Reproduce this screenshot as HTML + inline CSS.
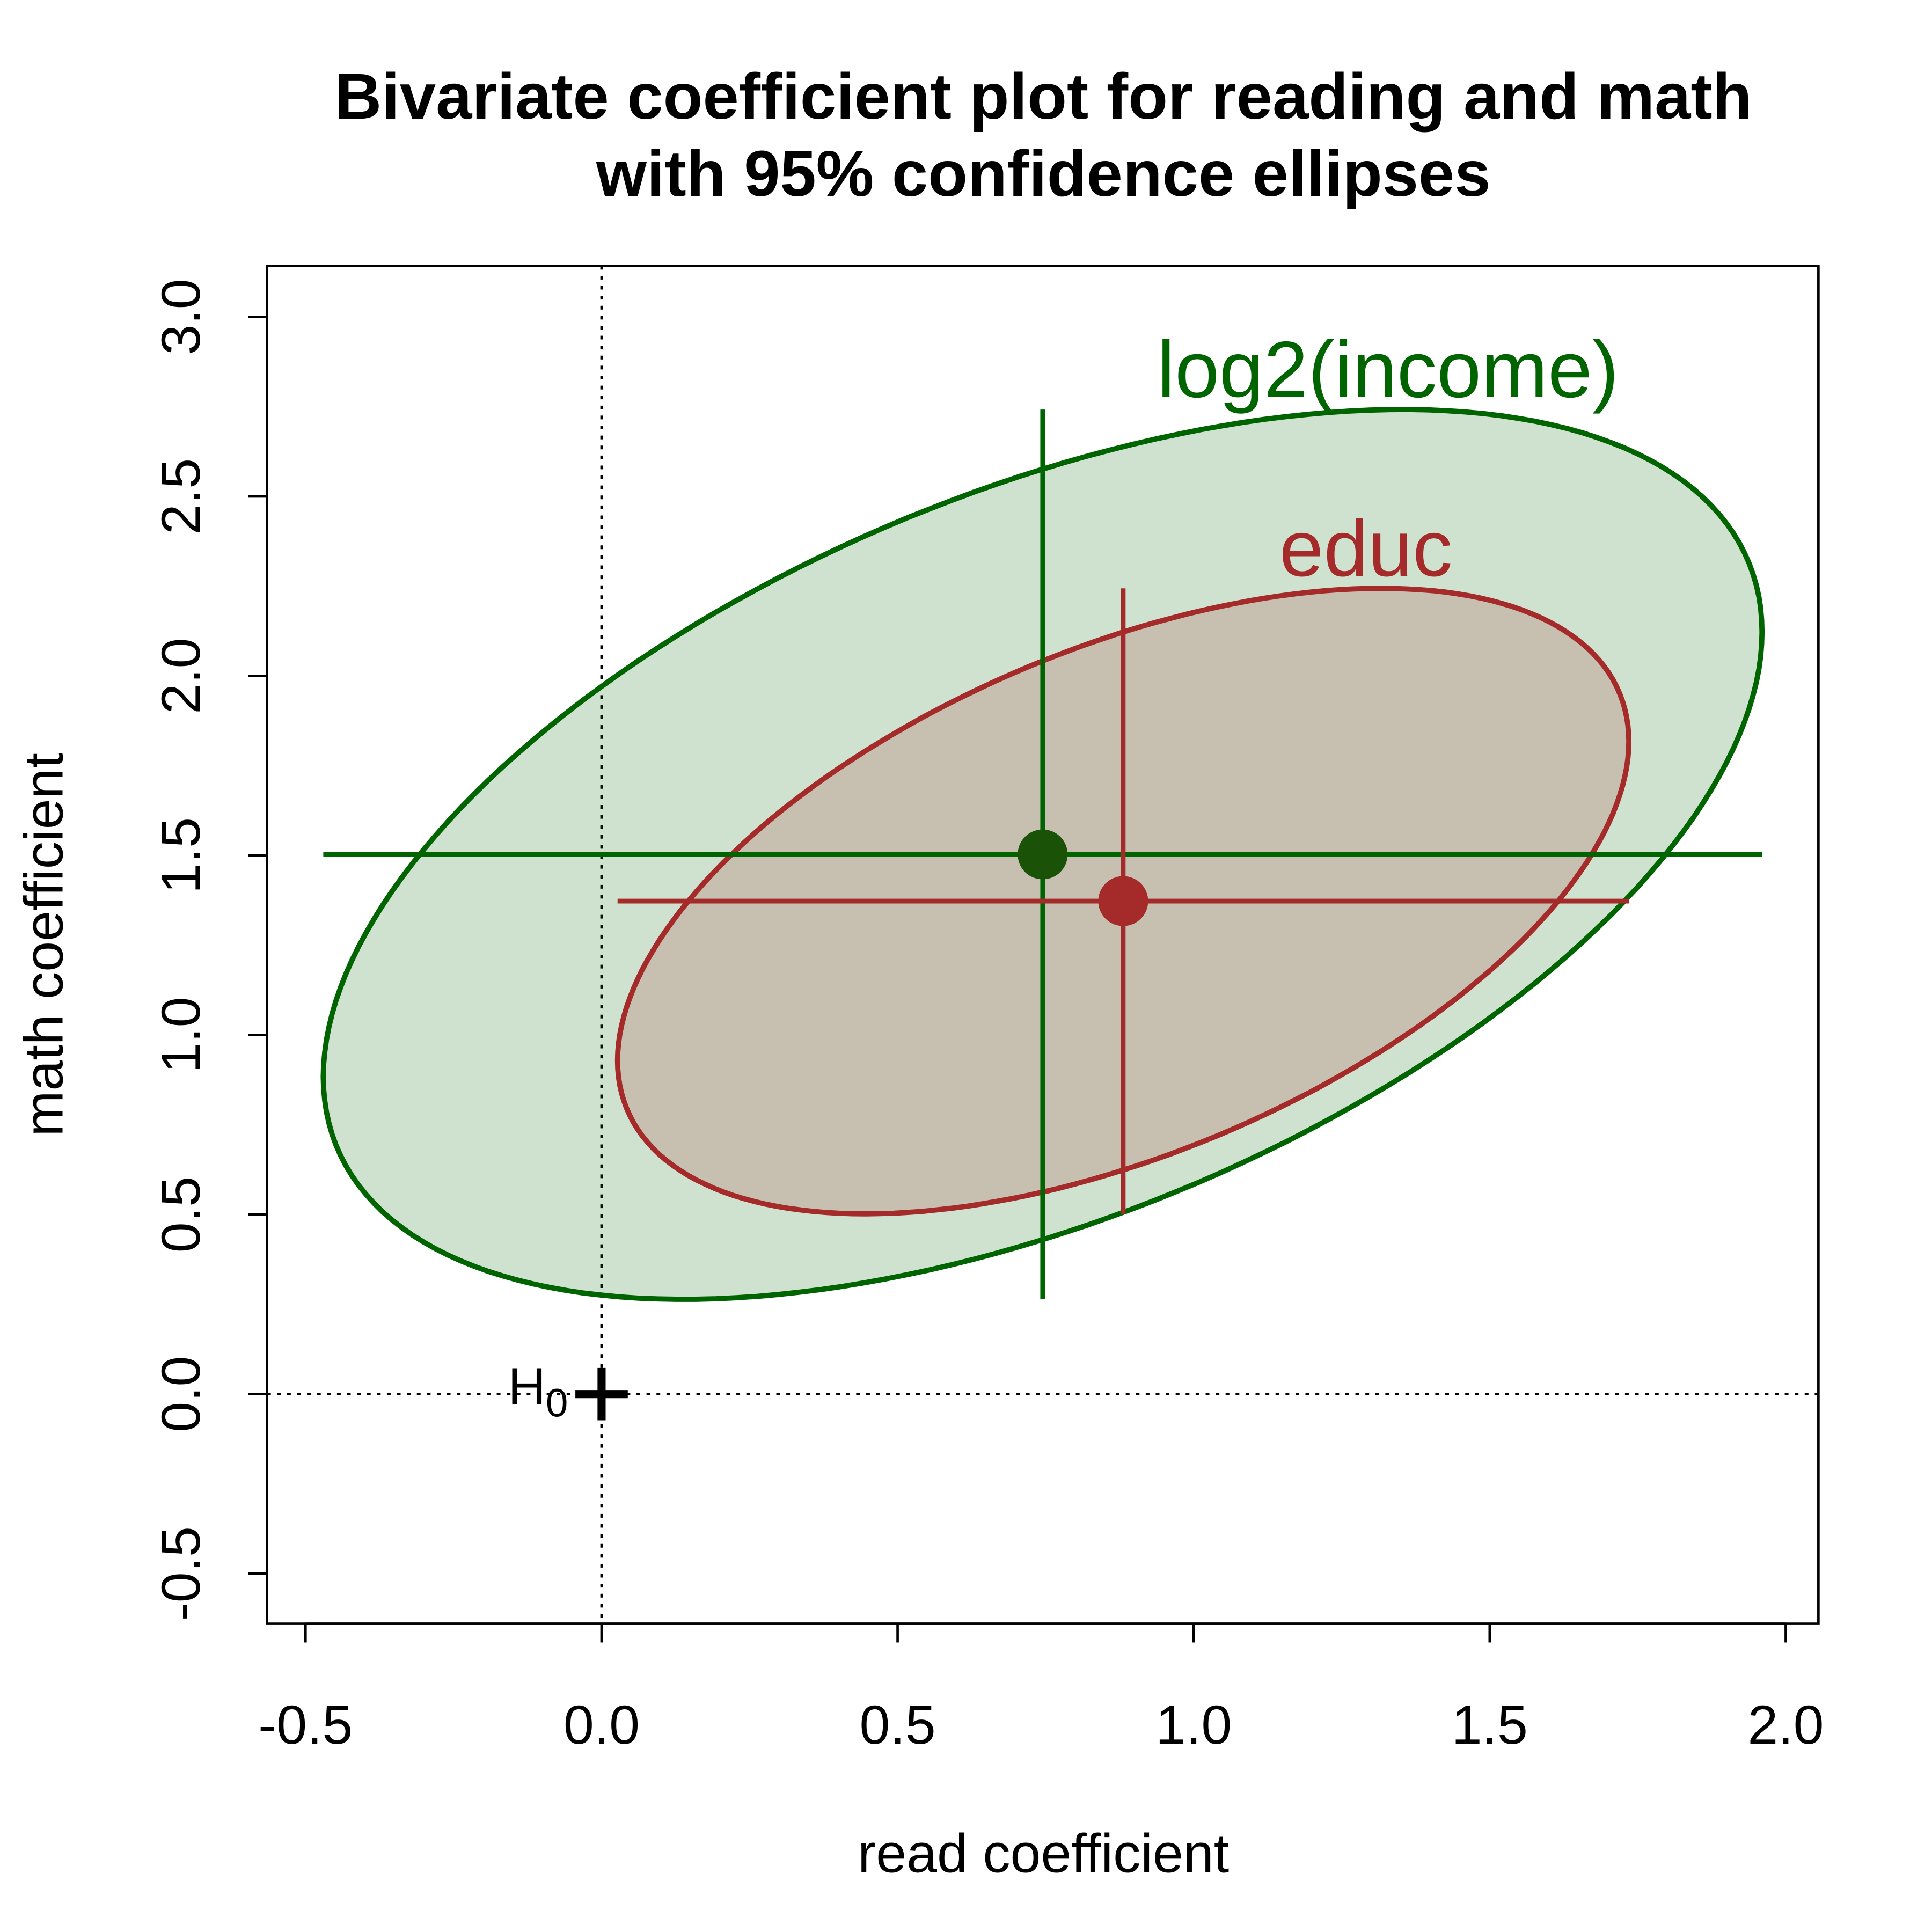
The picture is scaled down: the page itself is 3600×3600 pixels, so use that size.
<!DOCTYPE html>
<html><head><meta charset="utf-8"><style>html,body{margin:0;padding:0;background:#fff}svg{display:block}</style></head>
<body>
<svg id="chart" width="3600" height="3600" viewBox="0 0 1548 1548" xmlns="http://www.w3.org/2000/svg" font-family="Liberation Sans, Arial, sans-serif">
<rect width="1548" height="1548" fill="#fff"/>
<text x="836" y="95" font-size="52" font-weight="bold" text-anchor="middle">Bivariate coefficient plot for reading and math</text>
<text x="836" y="157" font-size="52" font-weight="bold" text-anchor="middle">with 95% confidence ellipses</text>
<g id="plot"></g>
<rect x="214" y="213" width="1243" height="1088" fill="none" stroke="#000" stroke-width="2"/>
<text x="836" y="1500" font-size="44" text-anchor="middle">read coefficient</text>
<text transform="translate(50,757) rotate(-90)" font-size="44" text-anchor="middle">math coefficient</text>
</svg>
<script>
const xTicks = [-0.5, 0, 0.5, 1.0, 1.5, 2.0];
const yTicks = [-0.5, 0, 0.5, 1.0, 1.5, 2.0, 2.5, 3.0];
const seriesNames = ["log2(income)", "educ"];
const centerX = [0.745, 0.881];
const centerY = [1.503, 1.373];
const halfX = [1.215, 0.854];
const halfY = [1.239, 0.871];
const rho = [0.5, 0.51];
const colors = ["#006400", "#a52a2a"];
const fills = ["rgba(0,100,0,0.19)", "rgba(165,42,42,0.19)"];
const pointColors = ["#1a5208", "#a52a2a"];

const NS = "http://www.w3.org/2000/svg";
const sx = v => 482 + v * 474.4;
const sy = v => 1117 - v * 287.7;
const g = document.getElementById('plot');
function mk(tag, attrs) { const e = document.createElementNS(NS, tag); for (const k in attrs) e.setAttribute(k, attrs[k]); g.appendChild(e); return e; }

xTicks.forEach(t => {
  const l = mk('line', {x1: sx(t), x2: sx(t), y1: 1301, y2: 1316, stroke: '#000', 'stroke-width': 2});
  
  
  const tx = mk('text', {x: sx(t), y: 1397, 'font-size': 44, 'text-anchor': 'middle'});
  tx.textContent = t.toFixed(1);
  
  
});
mk('line', {x1: sx(-0.5), x2: sx(2.0), y1: 1301, y2: 1301, stroke: '#000', 'stroke-width': 2});
yTicks.forEach(t => {
  const l = mk('line', {x1: 199, x2: 214, y1: sy(t), y2: sy(t), stroke: '#000', 'stroke-width': 2});
  
  
  const tx = mk('text', {transform: `translate(160,${sy(t)}) rotate(-90)`, 'font-size': 44, 'text-anchor': 'middle'});
  tx.textContent = t.toFixed(1);
  
  
});

const h1 = mk('line', {x1: 214, x2: 1457, y1: sy(0), y2: sy(0), stroke: '#000', 'stroke-width': 2, 'stroke-dasharray': '3,5'});


const v1 = mk('line', {x1: sx(0), x2: sx(0), y1: 213, y2: 1301, stroke: '#000', 'stroke-width': 2, 'stroke-dasharray': '3,5'});



for (let i = 0; i < seriesNames.length; i++) {
  let d = '';
  const r = rho[i], s = Math.sqrt(1 - r * r);
  for (let k = 0; k <= 200; k++) {
    const t = k / 200 * 2 * Math.PI;
    const x = centerX[i] + halfX[i] * Math.cos(t);
    const y = centerY[i] + halfY[i] * (r * Math.cos(t) + s * Math.sin(t));
    d += (k ? 'L' : 'M') + sx(x).toFixed(1) + ',' + sy(y).toFixed(1);
  }
  const e = mk('path', {d: d + 'Z', fill: fills[i], stroke: colors[i], 'stroke-width': 4.2});
  
  
}
for (let i = 0; i < seriesNames.length; i++) {
  const hx = mk('line', {x1: sx(centerX[i] - halfX[i]), x2: sx(centerX[i] + halfX[i]), y1: sy(centerY[i]), y2: sy(centerY[i]), stroke: colors[i], 'stroke-width': 3.8});
  
  
  const vy = mk('line', {x1: sx(centerX[i]), x2: sx(centerX[i]), y1: sy(centerY[i] - halfY[i]), y2: sy(centerY[i] + halfY[i]), stroke: colors[i], 'stroke-width': 3.8});
  
  
  const p = mk('circle', {cx: sx(centerX[i]), cy: sy(centerY[i]), r: 20, fill: pointColors[i]});
  
  
  const lb = mk('text', {x: sx(centerX[i] + halfX[i] * 0.48), y: sy(centerY[i] + halfY[i]) - 10, 'font-size': 64, fill: colors[i], 'text-anchor': 'middle'});
  lb.textContent = seriesNames[i];
  
  
}
const c1 = mk('line', {x1: sx(0) - 21, x2: sx(0) + 21, y1: sy(0), y2: sy(0), stroke: '#000', 'stroke-width': 6.5});


const c2 = mk('line', {x1: sx(0), x2: sx(0), y1: sy(0) - 21, y2: sy(0) + 21, stroke: '#000', 'stroke-width': 6.5});


const h0 = mk('text', {x: 407, y: sy(0) + 8, 'font-size': 42});
h0.innerHTML = 'H<tspan font-size="32" dy="10">0</tspan>';


</script>
</body></html>
